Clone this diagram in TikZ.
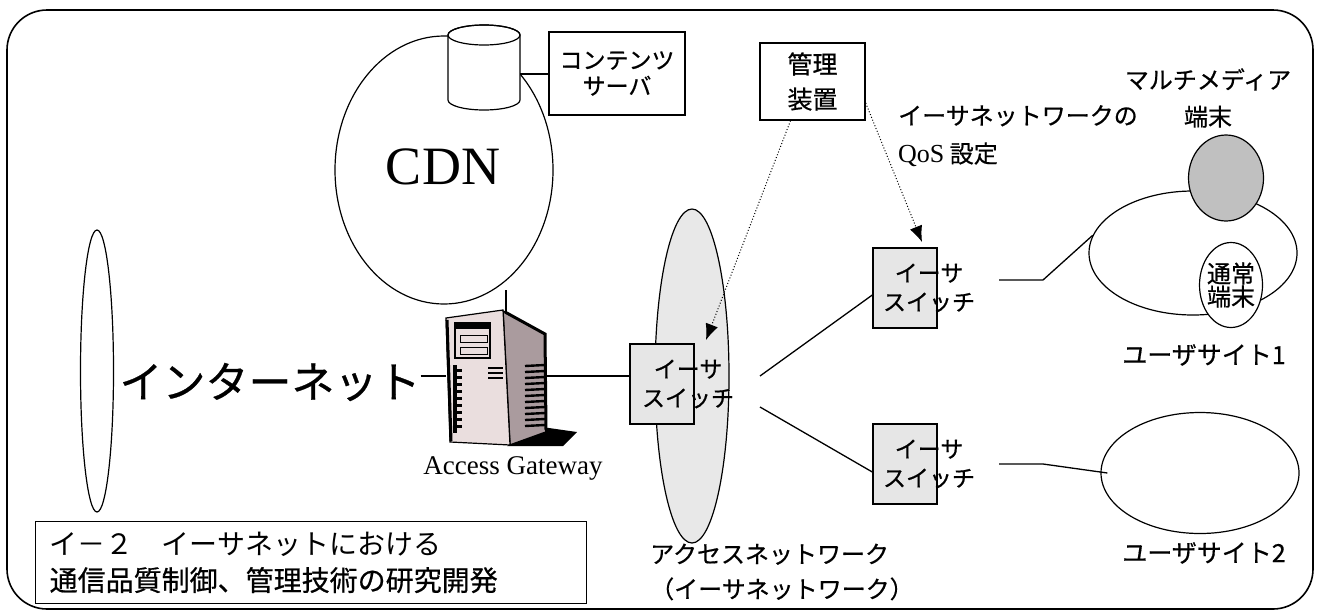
\documentclass[tikz,border=0pt]{standalone}
\usepackage{fontspec}
\setmainfont{Liberation Serif}
\newfontfamily\jp{Noto Sans CJK JP}[FakeBold=0.6]
\newfontfamily\jplight{Noto Sans CJK JP}
\usetikzlibrary{positioning,arrows.meta,shapes.geometric}
\definecolor{swgray}{RGB}{230,230,230}
\definecolor{accgray}{RGB}{232,232,232}
\definecolor{termgray}{RGB}{192,192,192}
\definecolor{srvfront}{RGB}{234,222,222}
\definecolor{srvside}{RGB}{170,155,158}

\begin{document}
\begin{tikzpicture}[
    x=1pt, y=-1pt,
    box/.style    ={draw, line width=1.4pt, fill=white, align=center, inner sep=0pt},
    swbox/.style  ={draw, line width=1.4pt, fill=swgray, minimum width=64pt, minimum height=80pt, inner sep=0pt},
    net/.style    ={ellipse, draw, line width=1.2pt, inner sep=0pt},
    jp/.style 2 args={font=\jp\fontsize{#1}{#2}\selectfont, align=center, inner sep=0pt},
    link/.style   ={line width=1.3pt},
    mgmtarr/.style={dotted, line width=1pt, -{Latex[length=16pt,width=13pt]}},
  ]
  \useasboundingbox (0,0) rectangle (1319,611);
  \draw[line width=1.6pt, rounded corners=40pt] (7,10) rectangle (1313,609);

  % left: internet
  \node[net, minimum width=33pt, minimum height=282pt] (inet) at (97,371) {};
  \node[jp={43}{43}] (inet-t) at (270,382) {インターネット};

  % CDN with its content server
  \node[net, minimum width=218pt, minimum height=268pt] (cdn) at (444,170) {};
  \node[font=\fontsize{54}{54}\selectfont, inner sep=0pt] (cdn-t) at (443,167) {CDN};
  \filldraw[line width=1.2pt, fill=white] (448,35) -- (448,100)
    arc[start angle=180, end angle=0, x radius=36, y radius=10] -- (520,35)
    arc[start angle=0, end angle=-180, x radius=36, y radius=10] -- cycle;
  \draw[line width=1.2pt] (484,35) ellipse [x radius=36, y radius=10];
  \coordinate (db-e) at (520,74);
  \node[box, jp={23}{26}, minimum width=136pt, minimum height=83pt] (cs) at (617,73.5) {コンテンツ\\サーバ};
  \coordinate (cdn-s) at (506,290);

  % access gateway (tower server)
  \coordinate (gw-w) at (446,376);
  \coordinate (gw-e) at (547,376);
  \coordinate (gw-n) at (506,312);
  \fill (507,446) -- (542,427) -- (577,432) -- (563,446) -- cycle;
  \filldraw[fill=srvside, line width=1.5pt] (503,311) -- (545,334) -- (546,432) -- (510,445) -- cycle;
  \draw[line width=3pt] (505,312) -- (545,334) -- (546,430);
  \filldraw[fill=srvfront, line width=1.2pt] (446,318) -- (503,310) -- (510,445) -- (450,442) -- cycle;
  \draw[line width=3pt] (447,320) -- (451,441);
  \draw[line width=1.4pt] (455,323) rectangle (490,358);
  \fill (456,324) rectangle (489,329);
  \draw[line width=1pt] (460,335) rectangle (487,342);
  \draw[line width=1pt] (460,347) rectangle (487,354);
  \fill (453,365) rectangle (457,433);
  \foreach \yy in {369,376,...,428} \fill (457,\yy) rectangle (462,\yy+3);
  \foreach \yy in {368,373,378} \draw[line width=2pt] (488,\yy) -- (503,\yy);
  \foreach \yy in {366,372,...,426} \draw[line width=2.4pt] (525,\yy) -- (545,\yy-1);
  \node[font=\fontsize{27}{27}\selectfont, inner sep=0pt] (gw-t) at (513,468) {Access Gateway};

  % access network and its switch
  \node[net, fill=accgray, minimum width=74pt, minimum height=334pt] (acc) at (692,376) {};
  \node[swbox] (sw-acc) at (662,384) {};
  \node[jp={23}{29}] at ([xshift=26pt]sw-acc.center) {イーサ\\スイッチ};
  \node[jp={24}{35}, align=left, anchor=west] (acc-t) at (650,572) {アクセスネットワーク\\（イーサネットワーク）};

  % switches toward the user sites
  \node[swbox] (sw-up) at (905,288) {};
  \node[jp={23}{29}] at ([xshift=24pt]sw-up.center) {イーサ\\スイッチ};
  \node[swbox] (sw-lo) at (905,464) {};
  \node[jp={23}{29}] at ([xshift=24pt]sw-lo.center) {イーサ\\スイッチ};

  % user sites and terminals
  \node[net, minimum width=208pt, minimum height=124pt] (us1) at (1193,253) {};
  \node[net, fill=termgray, minimum width=75pt, minimum height=86pt] (mm) at (1226,178) {};
  \node[net, fill=white, minimum width=63pt, minimum height=85pt] (pc) at (1231,285) {};
  \node[jp={24}{23}] at (pc) {通常\\端末};
  \node[jp={24}{37}] (mm-t) at (1208,98) {マルチメディア\\端末};
  \node[jp={25}{25}] (us1-t) at (1204,355) {ユーザサイト1};
  \node[net, minimum width=198pt, minimum height=121pt] (us2) at (1200,473) {};
  \node[jp={25}{25}] (us2-t) at (1204,553) {ユーザサイト2};

  % management
  \node[box, jp={25}{35}, minimum width=105pt, minimum height=77pt] (mgmt) at (812.5,81.5) {管理\\装置};
  \node[font=\jp\fontsize{24}{38}\selectfont, align=left, anchor=west, inner sep=0pt] (qos-t) at (898,136)
    {イーサネットワークの\\{\rmfamily\fontsize{26}{38}\selectfont QoS} 設定};

  % title
  \node[box, font=\jp\fontsize{28}{36}\selectfont, align=left, text width=523pt, minimum height=82pt,
        inner xsep=14pt, anchor=north west] (title) at (35,521)
    {{\jplight イ－２　イーサネットにおける}\\通信品質制御、管理技術の研究開発};

  % links
  \coordinate (fan-a) at (760,376);
  \coordinate (fan-b) at (760,407);
  \coordinate (up-a) at (999,280);
  \coordinate (up-b) at (1043,280);
  \coordinate (lo-a) at (999,464);
  \coordinate (lo-b) at (1043,464);
  \draw[link] (cdn-s) -- (gw-n);
  \draw[link] (db-e) -- (cs.west |- db-e);
  \draw[link] (inet-t.east |- gw-w) -- (gw-w);
  \draw[link] (gw-e) -- (gw-e -| sw-acc.west);
  \draw[link] (fan-a) -- ([yshift=-7pt]sw-up.west);
  \draw[link] (fan-b) -- ([yshift=-8pt]sw-lo.west);
  \draw[link] (up-a) -- (up-b) -- (us1.170);
  \draw[link] (lo-a) -- (lo-b) -- ([xshift=7pt]us2.west);

  % QoS settings from the management unit
  \coordinate (qos-acc) at (706,340);
  \coordinate (qos-up) at (922,242);
  \draw[mgmtarr] ([xshift=-22pt]mgmt.south) -- (qos-acc);
  \draw[mgmtarr] ([yshift=-21.5pt]mgmt.east) -- (qos-up);
\end{tikzpicture}
\end{document}
